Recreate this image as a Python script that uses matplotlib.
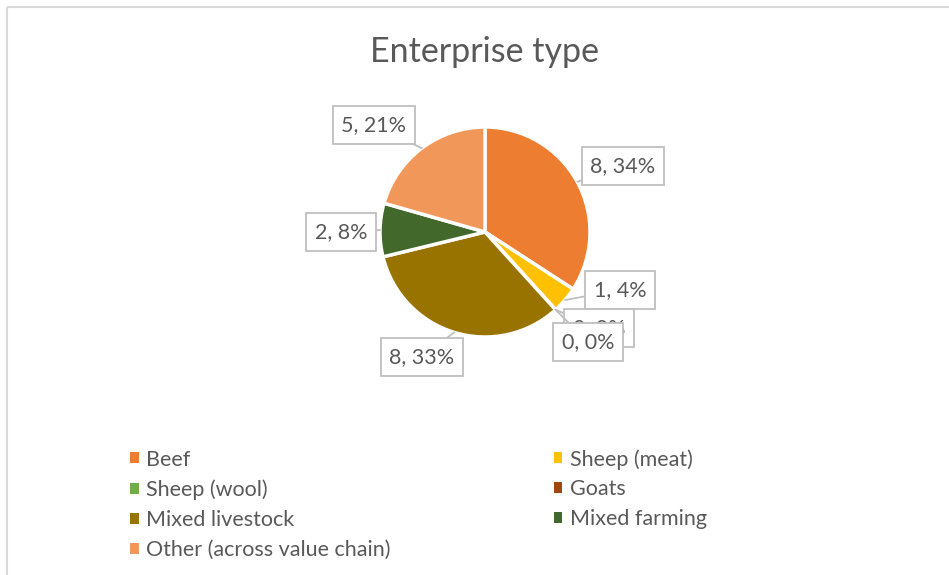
import matplotlib
matplotlib.use("Agg")
import matplotlib.pyplot as plt
from matplotlib.patches import Patch
import numpy as np

plt.rcParams['font.family'] = ['Lato', 'DejaVu Sans']

categories = ["Beef", "Sheep (meat)", "Sheep (wool)", "Goats",
              "Mixed livestock", "Mixed farming", "Other (across value chain)"]
values = [8.3, 1.0, 0.0, 0.0, 8.0, 2.0, 5.0]
colors = ["#ED7D31", "#FFC000", "#70AD47", "#9E480E",
          "#997300", "#43682B", "#F1975A"]
title = "Enterprise type"

# layout (pixels)
W, H = 949, 575
cx, cy, R = 485, H - 232, 105
# label box offsets from pie centre (px, y up)
label_offsets = [(138, 66), (135, -58), (114, -96), (103, -110),
                 (-63, -125), (-144, 0), (-111, 107)]

fig = plt.figure(figsize=(W / 100, H / 100), dpi=100)
ax = fig.add_axes([0, 0, 1, 1])

wedges, _ = ax.pie(values, colors=colors, startangle=90, counterclock=False,
                   center=(cx, cy), radius=R,
                   wedgeprops=dict(edgecolor="white", linewidth=2.5))
ax.set_xlim(0, W)
ax.set_ylim(0, H)
ax.set_aspect('equal')
ax.axis('off')

# chart frame lines (top and left)
ax.plot([7, W], [H - 7, H - 7], color="#D9D9D9", lw=1.5, solid_capstyle='butt')
ax.plot([7, 7], [0, H - 7], color="#D9D9D9", lw=1.5, solid_capstyle='butt')

total = sum(values)
for w, v, (dx, dy) in zip(wedges, values, label_offsets):
    ang = np.deg2rad((w.theta1 + w.theta2) / 2)
    px, py = cx + R * np.cos(ang), cy + R * np.sin(ang)
    pct = 100 * v / total
    ax.annotate(f"{v:.0f}, {pct:.0f}%", xy=(px, py), xytext=(cx + dx, cy + dy),
                ha="center", va="center", fontsize=15.5, color="#595959",
                bbox=dict(boxstyle="square,pad=0.4", fc="white", ec="#BFBFBF", lw=1.3),
                arrowprops=dict(arrowstyle="-", color="#BFBFBF", lw=1.3,
                                shrinkA=0, shrinkB=0))

ax.text(485, H - 52, title, ha="center", va="center", fontsize=24.5, color="#595959")

order = [0, 2, 4, 6, 1, 3, 5]
handles = [Patch(facecolor=colors[i], edgecolor="none") for i in order]
labels = [categories[i] for i in order]
leg = ax.legend(handles, labels, ncol=2, loc="upper left",
                bbox_to_anchor=(130 / W, 1 - 449 / H), frameon=False,
                fontsize=15.5, labelcolor="#595959", handlelength=0.4,
                handleheight=0.4, handletextpad=0.33, labelspacing=0.46,
                columnspacing=7.6, borderpad=0, borderaxespad=0)

fig.savefig("out.png", dpi=100, facecolor="white")
